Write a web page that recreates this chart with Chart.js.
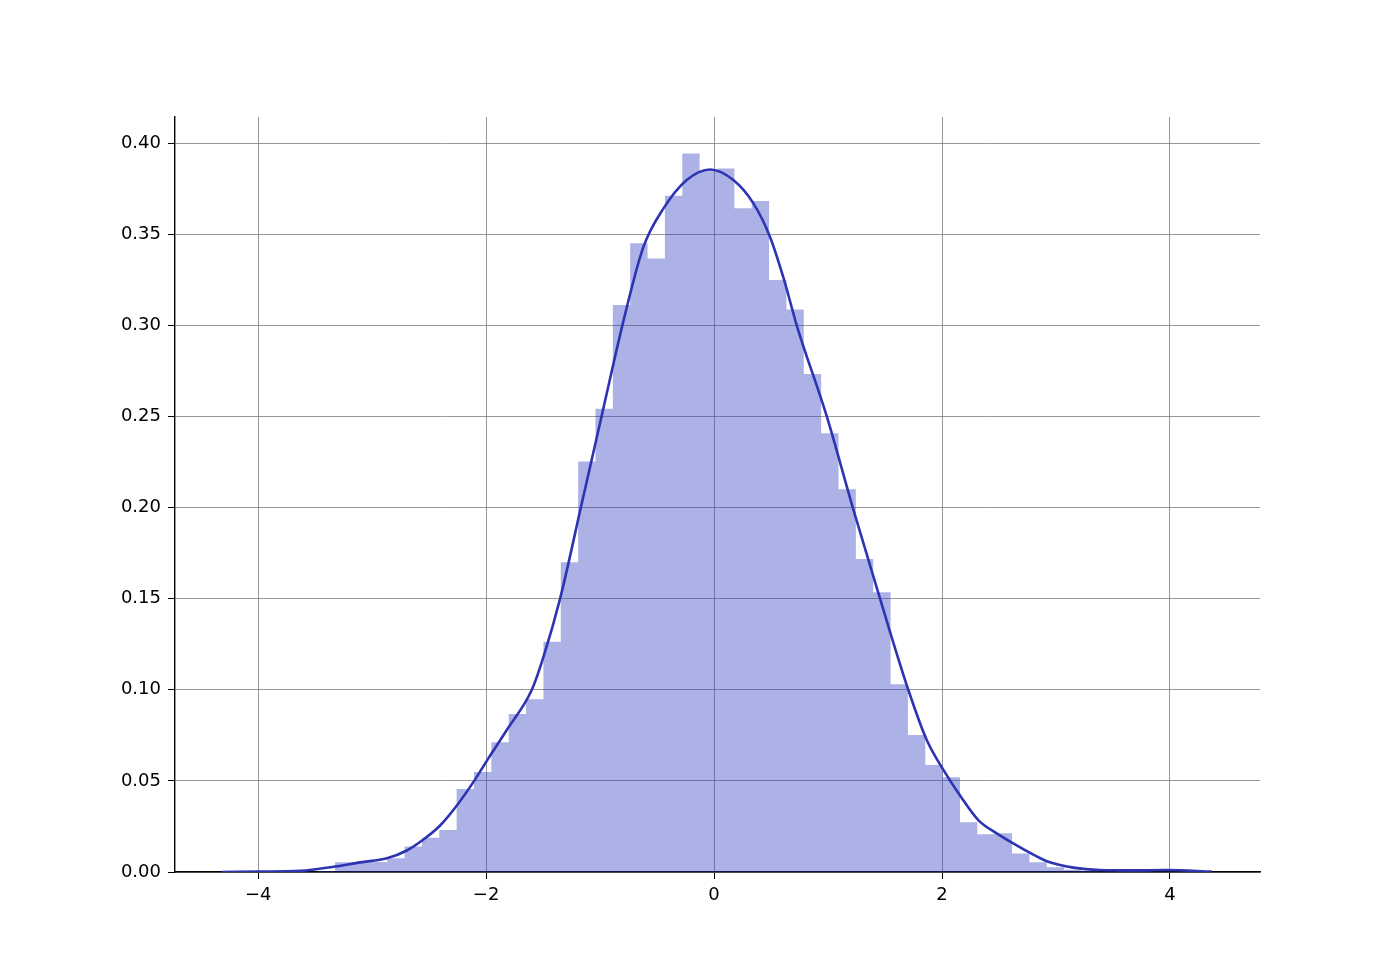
<!DOCTYPE html>
<html>
<head>
<meta charset="utf-8">
<title>Distribution</title>
<script src="https://cdn.jsdelivr.net/npm/chart.js@4.4.1/dist/chart.umd.min.js"></script>
<style>
    html, body { margin: 0; padding: 0; background: #fff; }
    #wrap { width: 1400px; height: 980px; }
</style>
</head>
<body>
<div id="wrap"><canvas id="distChart" width="1400" height="980"></canvas></div>
<script>
// histogram: 50 equal bins, first left edge and width
const BIN_START = -3.782;
const BIN_WIDTH = 0.1523;
const binDensity = [
    0.0006, 0.0000, 0.0006, 0.0053, 0.0053, 0.0055, 0.0075, 0.0140, 0.0188, 0.0230,
    0.0455, 0.0549, 0.0712, 0.0867, 0.0948, 0.1264, 0.1700, 0.2253, 0.2542, 0.3111,
    0.3450, 0.3367, 0.3711, 0.3943, 0.3845, 0.3860, 0.3642, 0.3682, 0.3248, 0.3087,
    0.2733, 0.2407, 0.2100, 0.1717, 0.1535, 0.1030, 0.0752, 0.0587, 0.0520, 0.0273,
    0.0207, 0.0212, 0.0102, 0.0053, 0.0026, 0.0013, 0.0006, 0.0000, 0.0006, 0.0006
];

// density curve, points
const kdeX = [
    -4.316, -3.98, -3.632, -3.325, -3.105, -2.871, -2.696, -2.55, -2.404, -2.257,
    -2.105, -1.994, -1.819, -1.599, -1.497, -1.351, -1.169, -0.98, -0.785, -0.62,
    -0.445, -0.24, -0.035, 0.169, 0.345, 0.491, 0.615, 0.725, 0.989, 1.217,
    1.456, 1.704, 1.866, 2.012, 2.164, 2.318, 2.48, 2.625, 2.781, 2.932,
    3.152, 3.386, 3.675, 3.971, 4.366
];
const kdeY = [
    0.0000, 0.0002, 0.0006, 0.0030, 0.0053, 0.0075, 0.0118, 0.0178, 0.0255, 0.0365,
    0.0500, 0.0610, 0.0779, 0.1000, 0.1180, 0.1500, 0.2000, 0.2520, 0.3050, 0.3430,
    0.3640, 0.3797, 0.3855, 0.3797, 0.3669, 0.3485, 0.3248, 0.3000, 0.2500, 0.2000,
    0.1500, 0.1000, 0.0724, 0.0560, 0.0414, 0.0285, 0.0212, 0.0157, 0.0102, 0.0056,
    0.0024, 0.0011, 0.0009, 0.0011, 0.0002
];

const xTicks = [-4, -2, 0, 2, 4];
const yTicks = [0, 0.05, 0.10, 0.15, 0.20, 0.25, 0.30, 0.35, 0.40];

(function () {
    'use strict';

    const canvas = document.getElementById('distChart');
    if (!canvas) return;

    const lineColor = 'rgb(44, 52, 178)';
    const barColor = 'rgba(44, 56, 190, 0.39)';
    const gridColor = 'rgba(128, 128, 128, 0.8)';

    // histogram outline as a stepped, filled line: one point per bin edge
    const bars = binDensity.map((d, i) => ({ x: BIN_START + i * BIN_WIDTH, y: d }));
    bars.push({ x: BIN_START + binDensity.length * BIN_WIDTH, y: binDensity[binDensity.length - 1] });
    const curve = kdeX.map((x, i) => ({ x: x, y: kdeY[i] }));

    function fmtX(v) {
        return v < 0 ? '\u2212' + Math.abs(v) : String(v);
    }

    new Chart(canvas.getContext('2d'), {
        type: 'line',
        data: {
            datasets: [{
                data: curve,
                borderColor: lineColor,
                borderWidth: 2.6,
                pointRadius: 0,
                fill: false,
                cubicInterpolationMode: 'monotone',
                order: 0
            }, {
                data: bars,
                stepped: 'before',
                backgroundColor: barColor,
                borderWidth: 0,
                borderColor: 'rgba(0,0,0,0)',
                pointRadius: 0,
                fill: 'origin',
                order: 1
            }]
        },
        options: {
            responsive: false,
            animation: false,
            devicePixelRatio: 1,
            layout: { padding: { top: 117, right: 140, bottom: 0, left: 0 } },
            plugins: {
                legend: { display: false },
                tooltip: { enabled: false }
            },
            scales: {
                x: {
                    type: 'linear',
                    min: -4.73,
                    max: 4.79,
                    offset: false,
                    afterFit: s => { s.height = 108; },
                    afterBuildTicks: s => { s.ticks = xTicks.map(v => ({ value: v })); },
                    grid: {
                        color: gridColor,
                        lineWidth: 1,
                        offset: false,
                        tickColor: '#000',
                        tickLength: 7
                    },
                    border: { display: true, color: '#000', width: 1.4 },
                    ticks: {
                        color: '#000',
                        padding: 6,
                        maxRotation: 0,
                        font: { family: 'DejaVu Sans', size: 18 },
                        callback: v => fmtX(v)
                    }
                },
                y: {
                    type: 'linear',
                    min: 0,
                    max: 0.4143,
                    afterFit: s => { s.width = 175; },
                    afterBuildTicks: s => { s.ticks = yTicks.map(v => ({ value: v })); },
                    grid: {
                        color: gridColor,
                        lineWidth: 1,
                        tickColor: '#000',
                        tickLength: 7
                    },
                    border: { display: true, color: '#000', width: 1.4 },
                    ticks: {
                        color: '#000',
                        padding: 7,
                        font: { family: 'DejaVu Sans', size: 18 },
                        callback: v => Number(v).toFixed(2)
                    }
                }
            }
        }
    });
})();
</script>
</body>
</html>
